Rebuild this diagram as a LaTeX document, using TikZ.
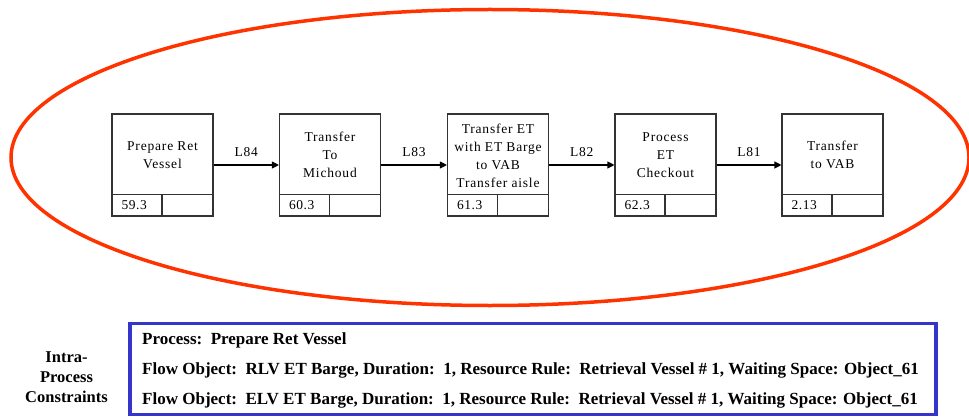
\documentclass[tikz,border=0pt]{standalone}
\usepackage{fontspec}
\setmainfont{Liberation Serif}
\usetikzlibrary{arrows.meta}
\definecolor{ellred}{HTML}{FF3300}
\definecolor{boxblue}{HTML}{3535CC}
\definecolor{boxgray}{HTML}{333333}
\tikzset{
  pbox/.style={draw=boxgray, line width=1.1pt, minimum width=101pt, minimum height=102pt, inner sep=0pt},
  ptext/.style={align=center, font=\addfontfeature{LetterSpace=6}\fontsize{13.5}{18}\selectfont, inner sep=0pt},
  pnum/.style={anchor=west, font=\addfontfeature{LetterSpace=4}\fontsize{13.5}{15}\selectfont, inner sep=0pt},
  flow/.style={line width=1.1pt, -{Triangle[length=7pt,width=7pt]}},
  llabel/.style={midway, yshift=12.5pt, font=\addfontfeature{LetterSpace=5}\fontsize{13.5}{15}\selectfont},
  ell/.style={draw=ellred, line width=3.5pt},
  cbox/.style={draw=boxblue, line width=3.5pt, minimum width=806pt, minimum height=91pt, inner sep=0pt},
  ctext/.style={anchor=west, font=\bfseries\fontsize{17}{20}\selectfont, inner sep=0pt},
  side/.style={align=center, font=\bfseries\fontsize{16.5}{20}\selectfont, inner sep=0pt}
}
\begin{document}
\begin{tikzpicture}[x=1pt, y=-1pt]
\useasboundingbox (0,0) rectangle (969,417);
\draw[ell] (490,157.5) ellipse [x radius=479pt, y radius=148pt];

\foreach \n/\x/\num in {1/162.5/59.3, 2/330/60.3, 3/498/61.3, 4/665.5/62.3, 5/832.5/2.13}{
  \node[pbox] (b\n) at (\x,165) {};
  \draw[boxgray, line width=1.1pt] ([yshift=22.5pt]b\n.south west) -- ([yshift=22.5pt]b\n.south east);
  \draw[boxgray, line width=1.1pt] ([xshift=50.5pt]b\n.south west) -- ([xshift=50.5pt, yshift=22.5pt]b\n.south west);
  \node[pnum] (n\n) at ([xshift=10pt, yshift=11pt]b\n.south west) {\num};
}
\node[ptext] (t1) at (162.5,155) {Prepare Ret\\Vessel};
\node[ptext] (t2) at (330,155) {Transfer\\To\\Michoud};
\node[ptext] (t3) at (498,156) {Transfer ET\\with ET Barge\\to VAB\\Transfer aisle};
\node[ptext] (t4) at (665.5,155) {Process\\ET\\Checkout};
\node[ptext] (t5) at (832.5,155) {Transfer\\to VAB};

\draw[flow] (b1.east) -- (b2.west) node[llabel] {L84};
\draw[flow] (b2.east) -- (b3.west) node[llabel] {L83};
\draw[flow] (b3.east) -- (b4.west) node[llabel] {L82};
\draw[flow] (b4.east) -- (b5.west) node[llabel] {L81};

\node[cbox] (cons) at (533,369) {};
\node[ctext] (c1) at (142,340) {Process:\ \ Prepare Ret Vessel};
\node[ctext] (c2) at (142,370) {Flow Object:\ \ RLV ET Barge, Duration:\ \ 1, Resource Rule:\ \ Retrieval Vessel \# 1, Waiting Space: Object\_61};
\node[ctext] (c3) at (142,400) {Flow Object:\ \ ELV ET Barge, Duration:\ \ 1, Resource Rule:\ \ Retrieval Vessel \# 1, Waiting Space: Object\_61};
\node[side] (side) at (66.5,377) {Intra-\\Process\\Constraints};
\end{tikzpicture}
\end{document}
